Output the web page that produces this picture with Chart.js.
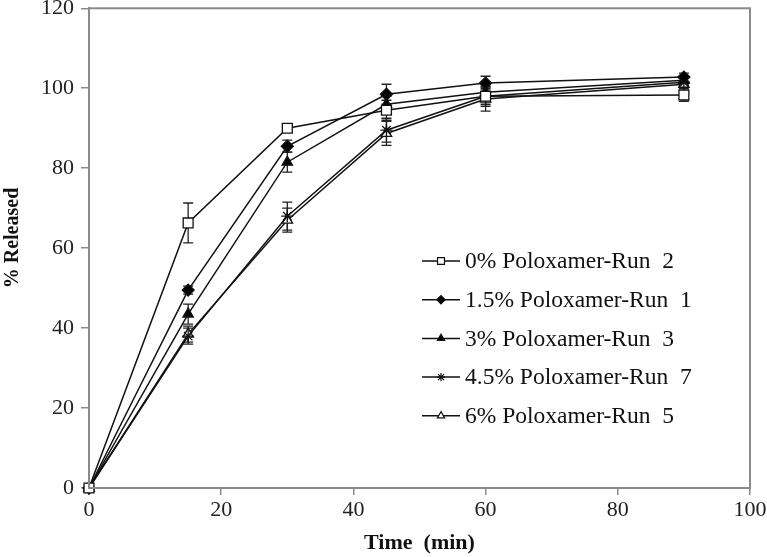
<!DOCTYPE html>
<html>
<head>
<meta charset="utf-8">
<script src="https://cdn.jsdelivr.net/npm/chart.js@4.4.1/dist/chart.umd.min.js"></script>
<style>
  html, body { margin: 0; padding: 0; background: #fff; }
  #wrap { width: 767px; height: 557px; }
</style>
</head>
<body>
<div id="wrap"><canvas id="chart"></canvas></div>
<script>
// --- data ---
const times = [0, 15, 30, 45, 60, 90];
const seriesNames = ['0% Poloxamer-Run  2', '1.5% Poloxamer-Run  1', '3% Poloxamer-Run  3', '4.5% Poloxamer-Run  7', '6% Poloxamer-Run  5'];
const run2 = [0, 66.3, 90, 94.5, 98, 98.3];
const run1 = [0, 49.5, 85.5, 98.5, 101.3, 102.8];
const run3 = [0, 43.5, 81.5, 96, 99, 102];
const run7 = [0, 38, 68, 89.5, 98, 101.5];
const run5 = [0, 38.5, 67, 88.7, 97.3, 101];
const err2 = [0, 5, 1, 2.5, 2, 1.6];
const err1 = [0, 1, 1.5, 2.5, 1.7, 1];
const err3 = [0, 2.5, 2.5, 2, 2, 1];
const err7 = [0, 2, 3.5, 3, 2.5, 1];
const err5 = [0, 2, 3, 3, 3, 1.5];
const yTicks = [0, 20, 40, 60, 80, 100, 120];
const xTicks = [0, 20, 40, 60, 80, 100];

const allValues = [run2, run1, run3, run7, run5];
const allErrors = [err2, err1, err3, err7, err5];
const markers = [
    { style: 'rect', radius: 7, fill: '#fff' },
    { style: 'rectRot', radius: 6, fill: '#000' },
    { style: 'triangle', radius: 6, fill: '#000' },
    { style: 'star', radius: 6, fill: '#000' },
    { style: 'triangle', radius: 6, fill: '#fff' }
];

const serif = "'Liberation Serif', 'Times New Roman', serif";
const axisGray = '#8a8a8a';

const datasets = allValues.map((vals, i) => ({
    label: seriesNames[i],
    data: times.map((t, j) => ({ x: t, y: vals[j] })),
    borderColor: '#111',
    borderWidth: 1.5,
    tension: 0,
    clip: false,
    pointStyle: markers[i].style,
    pointRadius: markers[i].radius,
    pointBackgroundColor: markers[i].fill,
    pointBorderColor: '#111',
    pointBorderWidth: 1.3,
    errors: allErrors[i]
}));

// barres d'erreur, cadre, légende et titre Y dessinés à la main
const extras = {
    id: 'extras',
    beforeDatasetsDraw(chart) {
        const ctx = chart.ctx;
        const xs = chart.scales.x, ys = chart.scales.y;
        ctx.save();
        ctx.strokeStyle = '#222';
        ctx.lineWidth = 1.3;
        chart.data.datasets.forEach(ds => {
            ds.data.forEach((p, j) => {
                const e = ds.errors[j];
                if (!e) return;
                const px = xs.getPixelForValue(p.x);
                const top = ys.getPixelForValue(p.y + e);
                const bot = ys.getPixelForValue(p.y - e);
                ctx.beginPath();
                ctx.moveTo(px, top); ctx.lineTo(px, bot);
                ctx.moveTo(px - 5, top); ctx.lineTo(px + 5, top);
                ctx.moveTo(px - 5, bot); ctx.lineTo(px + 5, bot);
                ctx.stroke();
            });
        });
        ctx.restore();
    },
    afterDraw(chart) {
        const ctx = chart.ctx;
        const a = chart.chartArea;
        ctx.save();
        ctx.strokeStyle = axisGray;
        ctx.lineWidth = 2;
        ctx.strokeRect(a.left, a.top, a.right - a.left, a.bottom - a.top);

        // titre de l'axe Y
        ctx.save();
        ctx.translate(13, 238);
        ctx.rotate(-Math.PI / 2);
        ctx.font = 'bold 20px ' + serif;
        ctx.textAlign = 'center';
        ctx.textBaseline = 'middle';
        ctx.fillStyle = '#111';
        ctx.fillText('% Released', 0, 0);
        ctx.restore();

        // légende
        const x0 = 422, lineLen = 38, textX = 465;
        let y = 261;
        ctx.font = '23.5px ' + serif;
        ctx.textBaseline = 'middle';
        chart.data.datasets.forEach((ds, i) => {
            ctx.strokeStyle = '#111';
            ctx.lineWidth = 1.5;
            ctx.beginPath();
            ctx.moveTo(x0, y); ctx.lineTo(x0 + lineLen, y);
            ctx.stroke();
            ctx.fillStyle = markers[i].fill;
            ctx.lineWidth = 1.2;
            Chart.helpers.drawPoint(ctx, { pointStyle: markers[i].style, rotation: 0, radius: markers[i].radius * 0.7, borderWidth: 1.2 }, x0 + lineLen / 2, y);
            ctx.fillStyle = '#111';
            ctx.fillText(ds.label, textX, y + 1);
            y += 38.7;
        });
        ctx.restore();
    }
};

new Chart(document.getElementById('chart'), {
    type: 'line',
    data: { datasets },
    plugins: [extras],
    options: {
        responsive: true,
        maintainAspectRatio: false,
        animation: false,
        layout: { padding: { top: 8, right: 17, left: 0, bottom: 0 } },
        plugins: { legend: { display: false }, tooltip: { enabled: false } },
        scales: {
            x: {
                type: 'linear',
                min: 0, max: 100,
                afterBuildTicks: s => { s.ticks = xTicks.map(v => ({ value: v })); },
                afterFit: s => { s.height = 69; s.paddingLeft = 0; s.paddingRight = 0; },
                grid: { drawOnChartArea: false, drawTicks: true, tickLength: 7, color: axisGray, lineWidth: 1.5 },
                border: { display: true, color: axisGray, width: 2 },
                ticks: { color: '#222', font: { family: serif, size: 22 }, padding: 2, maxRotation: 0 },
                title: { display: true, text: 'Time  (min)', color: '#111', font: { family: serif, size: 22, weight: 'bold' }, padding: { top: 0, bottom: 0 } }
            },
            y: {
                min: 0, max: 120,
                afterBuildTicks: s => { s.ticks = yTicks.map(v => ({ value: v })); },
                afterFit: s => { s.width = 89; s.paddingTop = 0; s.paddingBottom = 0; },
                grid: { drawOnChartArea: false, drawTicks: true, tickLength: 8, color: axisGray, lineWidth: 1.5 },
                border: { display: true, color: axisGray, width: 2 },
                ticks: { color: '#222', font: { family: serif, size: 22 }, padding: 7 },
                title: { display: false }
            }
        }
    }
});
</script>
</body>
</html>
